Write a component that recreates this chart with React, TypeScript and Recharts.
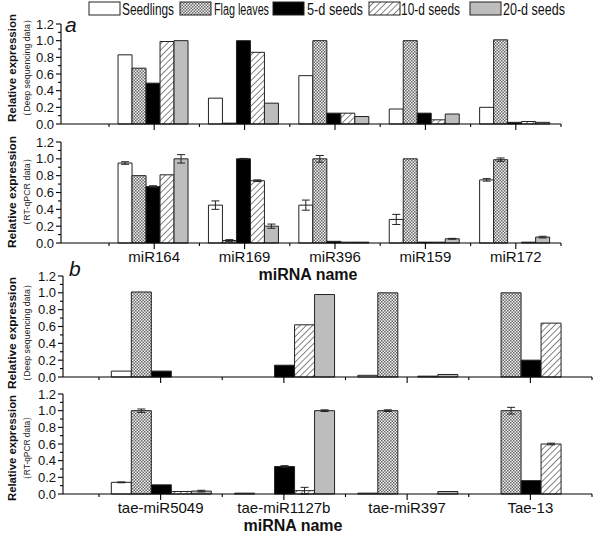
import React from "react";
import { BarChart, Bar, XAxis, YAxis, ErrorBar } from "recharts";

// series (tissues)
const seriesNames = ["Seedlings", "Flag leaves", "5-d seeds", "10-d seeds", "20-d seeds"];
const seriesFills = ["#ffffff", "url(#checker)", "#000000", "url(#hatch)", "#bdbdbd"];

// panel a: conserved miRNAs
const mirnaA = ["miR164", "miR169", "miR396", "miR159", "miR172"];

const seqSeedlingsA = [0.83, 0.31, 0.58, 0.18, 0.2];
const seqFlagA = [0.67, 0.01, 1.0, 1.0, 1.01];
const seq5dA = [0.49, 1.0, 0.13, 0.13, 0.02];
const seq10dA = [0.99, 0.86, 0.13, 0.05, 0.03];
const seq20dA = [1.0, 0.25, 0.09, 0.12, 0.02];

const pcrSeedlingsA = [0.95, 0.45, 0.45, 0.28, 0.75];
const pcrFlagA = [0.8, 0.03, 1.0, 1.0, 0.99];
const pcr5dA = [0.67, 1.0, 0.02, 0.01, 0.0];
const pcr10dA = [0.81, 0.74, 0.01, 0.01, 0.01];
const pcr20dA = [1.0, 0.2, 0.01, 0.05, 0.07];

const errSeedlingsA = [0.015, 0.05, 0.06, 0.06, 0.015];
const errFlagA = [0, 0.01, 0.04, 0, 0.02];
const err5dA = [0.01, 0.005, 0, 0, 0];
const err10dA = [0, 0.01, 0, 0, 0];
const err20dA = [0.05, 0.025, 0, 0.005, 0.01];

// panel b: novel / wheat-specific miRNAs
const mirnaB = ["tae-miR5049", "tae-miR1127b", "tae-miR397", "Tae-13"];

const seqSeedlingsB = [0.07, 0, 0.02, 0];
const seqFlagB = [1.01, 0, 1.0, 1.0];
const seq5dB = [0.07, 0.14, 0, 0.2];
const seq10dB = [0, 0.62, 0.01, 0.64];
const seq20dB = [0, 0.98, 0.03, 0];

const pcrSeedlingsB = [0.14, 0.01, 0.01, 0];
const pcrFlagB = [1.0, 0, 1.0, 1.0];
const pcr5dB = [0.11, 0.33, 0, 0.16];
const pcr10dB = [0.03, 0.04, 0, 0.6];
const pcr20dB = [0.035, 1.0, 0.03, 0];

const errSeedlingsB = [0.005, 0, 0, 0];
const errFlagB = [0.02, 0, 0.01, 0.04];
const err5dB = [0, 0.01, 0, 0];
const err10dB = [0, 0.04, 0, 0.01];
const err20dB = [0.01, 0.01, 0, 0];

const yTicks = [0, 0.1, 0.2, 0.3, 0.4, 0.5, 0.6, 0.7, 0.8, 0.9, 1.0, 1.1, 1.2];

const FONT = "'Liberation Sans', Arial, Helvetica, sans-serif";
const NARROW = "'Liberation Sans Narrow', 'Liberation Sans', Arial, sans-serif";

interface PanelProps {
  top: number;
  height: number;
  plotTop: number;
  plotBottom: number;
  axisX: number;
  plotRight: number;
  padLeft: number;
  categories: string[];
  values: number[][];
  errors?: number[][];
  labels: boolean;
}

function Panel(p: PanelProps) {
  const data = p.categories.map((name, i) => {
    const row: Record<string, any> = { name };
    p.values.forEach((vals, s) => {
      row["s" + s] = vals[i];
      if (p.errors) row["e" + s] = p.errors[s][i];
    });
    return row;
  });

  const axisY = p.plotBottom - p.top;
  const band = (p.plotRight - p.axisX - p.padLeft) / p.categories.length;

  const renderYTick = (props: any) => {
    const v = props.payload.value;
    const y = props.y;
    const major = Math.round(v * 10) % 2 === 0;
    const x = p.axisX;
    return (
      <g>
        <line x1={x} x2={x - (major ? 5 : 3)} y1={y} y2={y} stroke="#000" strokeWidth={1.1} />
        {major && (
          <text x={x - 7} y={y} dy={4.5} textAnchor="end" fontSize={13} fontFamily={FONT} fill="#111">
            {v.toFixed(1)}
          </text>
        )}
      </g>
    );
  };

  const renderXTick = (props: any) => {
    const x = props.x;
    const last = props.index === p.categories.length - 1;
    return (
      <g>
        <line x1={x} x2={x} y1={axisY} y2={axisY + 6} stroke="#000" strokeWidth={1.1} />
        <line x1={x - band / 2} x2={x - band / 2} y1={axisY} y2={axisY + 3} stroke="#000" strokeWidth={1.1} />
        {last && (
          <line x1={x + band / 2} x2={x + band / 2} y1={axisY} y2={axisY + 3} stroke="#000" strokeWidth={1.1} />
        )}
        {p.labels && (
          <text x={x} y={axisY + 19} textAnchor="middle" fontSize={15} fontFamily={FONT} fill="#111">
            {props.payload.value}
          </text>
        )}
      </g>
    );
  };

  return (
    <div style={{ position: "absolute", left: 0, top: p.top }}>
      <BarChart
        width={600}
        height={p.height}
        data={data}
        margin={{ top: p.plotTop - p.top, right: 600 - p.plotRight, left: 0, bottom: 0 }}
        barCategoryGap="10%"
        barGap={0}
      >
        <XAxis
          dataKey="name"
          height={p.height - axisY}
          padding={{ left: p.padLeft, right: 0 }}
          axisLine={{ stroke: "#000", strokeWidth: 1.1 }}
          tickLine={false}
          tickSize={0}
          tickMargin={0}
          interval={0}
          tick={renderXTick}
        />
        <YAxis
          width={p.axisX}
          domain={[0, 1.2]}
          ticks={yTicks}
          interval={0}
          axisLine={{ stroke: "#000", strokeWidth: 1.1 }}
          tickLine={false}
          tickSize={0}
          tickMargin={0}
          tick={renderYTick}
        />
        {p.values.map((_, s) => (
          <Bar
            key={s}
            dataKey={"s" + s}
            name={seriesNames[s]}
            fill={seriesFills[s]}
            stroke="#222"
            strokeWidth={1}
            isAnimationActive={false}
          >
            {p.errors && <ErrorBar dataKey={"e" + s} width={4} stroke="#222" strokeWidth={1} />}
          </Bar>
        ))}
      </BarChart>
    </div>
  );
}

function YTitle({ cy, sub, len, subLen }: { cy: number; sub: string; len: number; subLen: number }) {
  return (
    <g>
      <text
        transform={`translate(16, ${cy}) rotate(-90)`}
        textAnchor="middle"
        fontSize={11.5}
        fontWeight="bold"
        fontFamily={FONT}
        textLength={len}
        lengthAdjust="spacingAndGlyphs"
        fill="#111"
      >
        Relative expression
      </text>
      <text
        transform={`translate(30, ${cy}) rotate(-90)`}
        textAnchor="middle"
        fontSize={9.5}
        fontFamily={FONT}
        textLength={subLen}
        lengthAdjust="spacingAndGlyphs"
        fill="#222"
      >
        {sub}
      </text>
    </g>
  );
}

// legend layout
const legendBoxX = [89, 180, 273, 369, 470];
const legendTextX = [122, 214, 307, 401, 503];
const legendTextW = [52, 55, 56, 59, 62];

export default function App() {
  return (
    <div style={{ position: "absolute", left: 0, top: 0, width: 600, height: 533, background: "#fff" }}>
      <Panel
        top={0}
        height={140}
        plotTop={24}
        plotBottom={124}
        axisX={61}
        plotRight={561}
        padLeft={48}
        categories={mirnaA}
        values={[seqSeedlingsA, seqFlagA, seq5dA, seq10dA, seq20dA]}
        labels={false}
      />
      <Panel
        top={130}
        height={140}
        plotTop={142}
        plotBottom={243}
        axisX={61}
        plotRight={561}
        padLeft={48}
        categories={mirnaA}
        values={[pcrSeedlingsA, pcrFlagA, pcr5dA, pcr10dA, pcr20dA]}
        errors={[errSeedlingsA, errFlagA, err5dA, err10dA, err20dA]}
        labels={true}
      />
      <Panel
        top={262}
        height={130}
        plotTop={276}
        plotBottom={377}
        axisX={63}
        plotRight={592}
        padLeft={36}
        categories={mirnaB}
        values={[seqSeedlingsB, seqFlagB, seq5dB, seq10dB, seq20dB]}
        labels={false}
      />
      <Panel
        top={380}
        height={140}
        plotTop={394}
        plotBottom={494}
        axisX={63}
        plotRight={592}
        padLeft={36}
        categories={mirnaB}
        values={[pcrSeedlingsB, pcrFlagB, pcr5dB, pcr10dB, pcr20dB]}
        errors={[errSeedlingsB, errFlagB, err5dB, err10dB, err20dB]}
        labels={true}
      />
      <svg
        width={600}
        height={533}
        style={{ position: "absolute", left: 0, top: 0, pointerEvents: "none" }}
      >
        <defs>
          <pattern id="checker" width={3} height={3} patternUnits="userSpaceOnUse">
            <rect width={3} height={3} fill="#f2f2f2" />
            <rect x={0} y={0} width={1.5} height={1.5} fill="#666" />
            <rect x={1.5} y={1.5} width={1.5} height={1.5} fill="#666" />
          </pattern>
          <pattern id="hatch" width={4.5} height={4.5} patternUnits="userSpaceOnUse" patternTransform="rotate(45)">
            <rect width={4.5} height={4.5} fill="#fff" />
            <line x1={0} y1={0} x2={0} y2={4.5} stroke="#222" strokeWidth={1.1} />
          </pattern>
        </defs>

        {seriesNames.map((name, i) => (
          <g key={name}>
            <rect x={legendBoxX[i]} y={2} width={31} height={13} fill={seriesFills[i]} stroke="#222" strokeWidth={1} />
            <text
              x={legendTextX[i]}
              y={15}
              fontSize={16}
              fontFamily={NARROW}
              textLength={legendTextW[i]}
              lengthAdjust="spacingAndGlyphs"
              fill="#111"
            >
              {name}
            </text>
          </g>
        ))}

        <text x={65} y={32} fontSize={21} fontStyle="italic" fontFamily={FONT} fill="#111">
          a
        </text>
        <text x={69} y={276} fontSize={21} fontStyle="italic" fontFamily={FONT} fill="#111">
          b
        </text>

        <YTitle cy={68} sub="（Deep sequencing data）" len={108} subLen={106} />
        <YTitle cy={192} sub="（RT-qPCR data）" len={112} subLen={76} />
        <YTitle cy={333} sub="（Deep sequencing data）" len={112} subLen={106} />
        <YTitle cy={448} sub="（RT-qPCR data）" len={106} subLen={72} />

        <text x={308} y={280} textAnchor="middle" fontSize={16} fontWeight="bold" fontFamily={FONT} fill="#111">
          miRNA name
        </text>
        <text x={293} y={531} textAnchor="middle" fontSize={16} fontWeight="bold" fontFamily={FONT} fill="#111">
          miRNA name
        </text>
      </svg>
    </div>
  );
}
